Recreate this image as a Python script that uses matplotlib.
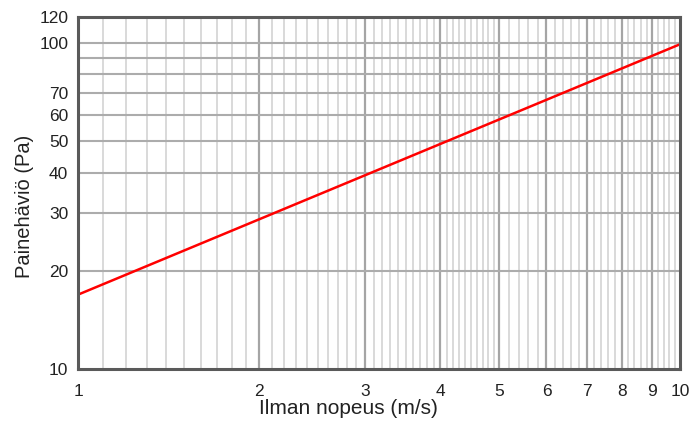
import matplotlib
matplotlib.use("Agg")
import matplotlib.pyplot as plt
from matplotlib.ticker import FixedLocator, NullFormatter

plt.rcParams['font.family'] = ['Liberation Sans', 'DejaVu Sans']

# data
speed = [1, 10]            # m/s
pressure = [16.9, 99.0]    # Pa

x_ticks = [1, 2, 3, 4, 5, 6, 7, 8, 9, 10]
y_ticks = [10, 20, 30, 40, 50, 60, 70, 100, 120]
y_grid = [10, 20, 30, 40, 50, 60, 70, 80, 90, 100, 120]
x_minor = ([1 + i / 10 for i in range(1, 10)] + [2 + i / 10 for i in range(1, 30) if i % 10]
           + [5 + i / 5 for i in range(1, 25) if i % 5])

fig = plt.figure(figsize=(6.91, 4.23), dpi=100)
ax = fig.add_axes([0.1129, 0.1277, 0.8712, 0.8321])
ax.set_xscale('log')
ax.set_yscale('log')
ax.set_xlim(1, 10)
ax.set_ylim(10, 120)

# grid
for v in x_minor:
    ax.axvline(v, color='#cfcfcf', lw=1.1, zorder=1)
for v in x_ticks[1:-1]:
    ax.axvline(v, color='#a5a5a5', lw=1.6, zorder=1)
for v in y_grid[1:-1]:
    ax.axhline(v, color='#acacac', lw=1.5, zorder=1)

ax.plot(speed, pressure, color='#ff0000', lw=1.8, zorder=3)

ax.xaxis.set_major_locator(FixedLocator(x_ticks))
ax.xaxis.set_minor_locator(FixedLocator([]))
ax.set_xticklabels([str(t) for t in x_ticks])
ax.xaxis.set_minor_formatter(NullFormatter())
ax.yaxis.set_major_locator(FixedLocator(y_ticks))
ax.yaxis.set_minor_locator(FixedLocator([]))
ax.set_yticklabels([str(t) for t in y_ticks])
ax.yaxis.set_minor_formatter(NullFormatter())
ax.tick_params(length=0, labelsize=12.5, colors='#222222')
ax.tick_params(axis='x', pad=11)
ax.tick_params(axis='y', pad=7)

for s in ax.spines.values():
    s.set_color('#5a5a5a')
    s.set_linewidth(2.2)
    s.set_zorder(4)

ax.set_xlabel("Ilman nopeus (m/s)", fontsize=15, color='#222222')
ax.set_ylabel("Painehäviö (Pa)", fontsize=14.5, color='#222222')
ax.xaxis.set_label_coords(0.45, -0.085)
ax.yaxis.set_label_coords(-0.073, 0.463)

fig.savefig("out.png", dpi=100)
